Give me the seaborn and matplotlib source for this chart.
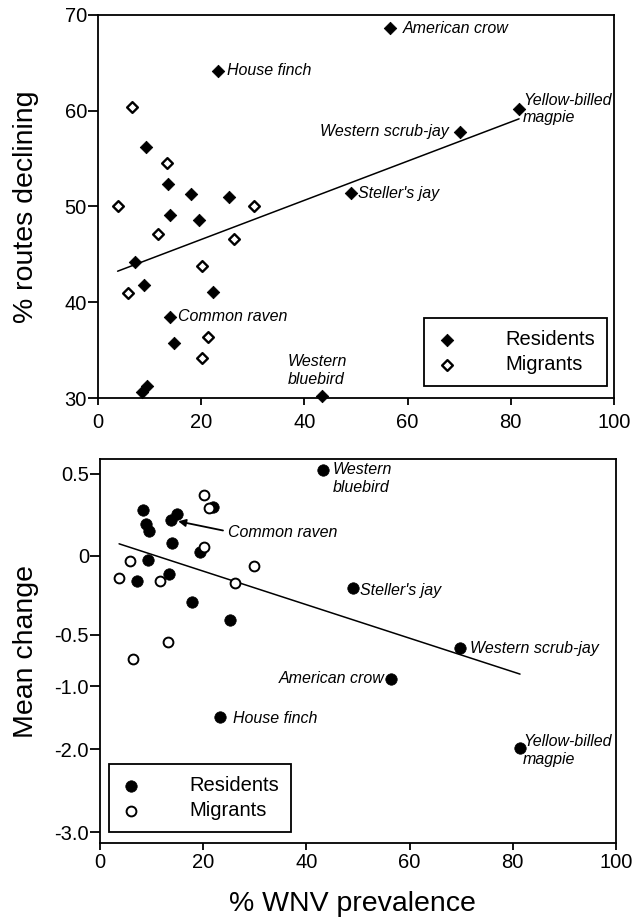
import numpy as np
import pandas as pd
import matplotlib
matplotlib.use("Agg")
import matplotlib.pyplot as plt
import seaborn as sns

# top panel: % routes declining vs % WNV prevalence
res_wnv_top = [23.3, 9.3, 13.5, 18.0, 25.3, 14.0, 19.5, 7.2, 9.0, 22.2,
               14.0, 14.8, 9.4, 8.5, 43.4, 56.6, 81.6, 70.1, 49.1]
res_decl = [64.2, 56.2, 52.3, 51.3, 51.0, 49.1, 48.6, 44.2, 41.8, 41.1,
            38.5, 35.7, 31.3, 30.6, 30.2, 68.6, 60.2, 57.8, 51.4]
res_names_top = ["House finch", "", "", "", "", "", "", "", "", "",
                 "Common raven", "", "", "", "Western\nbluebird", "American crow",
                 "Yellow-billed\nmagpie", "Western scrub-jay", "Steller's jay"]
mig_wnv_top = [6.6, 13.3, 30.2, 3.8, 11.7, 26.3, 20.2, 5.9, 21.4, 20.2]
mig_decl = [60.4, 54.5, 50.1, 50.0, 47.1, 46.6, 43.8, 41.0, 36.4, 34.2]

# bottom panel: mean change vs % WNV prevalence
res_wnv_bot = [21.9, 8.3, 14.9, 13.7, 8.9, 9.5, 13.9, 19.4, 9.3, 13.4,
               7.2, 17.9, 25.2, 43.2, 49.0, 69.8, 56.4, 23.3, 81.4]
res_change = [0.30, 0.28, 0.256, 0.22, 0.195, 0.15, 0.08, 0.024, -0.025, -0.114,
              -0.158, -0.29, -0.405, 0.52, -0.20, -0.63, -0.93, -1.49, -1.98]
res_names_bot = ["", "", "", "Common raven", "", "", "", "", "", "",
                 "", "", "", "Western\nbluebird", "Steller's jay", "Western scrub-jay",
                 "American crow", "House finch", "Yellow-billed\nmagpie"]
mig_wnv_bot = [20.2, 21.1, 20.2, 5.8, 29.9, 3.7, 11.6, 26.2, 13.2, 6.4]
mig_change = [0.37, 0.29, 0.055, -0.032, -0.063, -0.139, -0.158, -0.171, -0.569, -0.735]

x_ticks = [0, 20, 40, 60, 80, 100]
top_yticks = [30, 40, 50, 60, 70]
bot_yticks = [-3.0, -2.0, -1.0, -0.5, 0.0, 0.5]
bot_yticklabels = ["-3.0", "-2.0", "-1.0", "-0.5", "0", "0.5"]

sns.set_theme(style="ticks")
plt.rcParams["font.family"] = ["Liberation Sans", "DejaVu Sans"]
plt.rcParams["text.color"] = "black"
plt.rcParams["axes.labelcolor"] = "black"

fig = plt.figure(figsize=(6.33, 9.24), dpi=100)
ax1 = fig.add_axes([98 / 633, 1 - 398 / 924, 516 / 633, 383 / 924])
ax2 = fig.add_axes([100 / 633, 1 - 843 / 924, 516 / 633, 384 / 924])

# the bottom y axis is not evenly spaced in the original; piecewise scale
scale_vals = [-4.0, -3.0, -2.0, -1.0, -0.5, 0.0, 0.5, 1.0]
scale_pos = [-72, 11, 94, 157, 208, 287, 369, 451]


def fwd(v):
    return np.interp(v, scale_vals, scale_pos)


def inv(p):
    return np.interp(p, scale_pos, scale_vals)


ax2.set_yscale("function", functions=(fwd, inv))

for ax in (ax1, ax2):
    for sp in ax.spines.values():
        sp.set_linewidth(1.3)
        sp.set_color("black")
    ax.set_xlim(0, 100)
    ax.set_xticks(x_ticks)
    ax.tick_params(axis="both", colors="black", labelsize=14.5, width=1.3, direction="out")
    ax.tick_params(axis="y", length=7, pad=1)

ax1.tick_params(axis="x", length=5, pad=6)
ax2.tick_params(axis="x", length=5, pad=2)

txt = dict(fontsize=11.5, style="italic", color="black", textcoords="offset points")
leg_kw = dict(fontsize=14.5, frameon=True, fancybox=False, edgecolor="black", framealpha=1,
              borderaxespad=0, handlelength=1, handletextpad=2.4, labelspacing=0.3,
              borderpad=0.6, markerscale=1, labelcolor="black")

# ---- top
sns.regplot(x=res_wnv_top + mig_wnv_top, y=res_decl + mig_decl, scatter=False, ci=None,
            truncate=True, color="black", line_kws=dict(lw=1.1), ax=ax1)
sns.scatterplot(x=res_wnv_top, y=res_decl, marker="D", s=40, color="black",
                edgecolor="black", linewidth=0.6, label="Residents", clip_on=False, zorder=3, ax=ax1)
sns.scatterplot(x=mig_wnv_top, y=mig_decl, marker="D", s=30, color="white",
                edgecolor="black", linewidth=1.7, label="Migrants", clip_on=False, zorder=3, ax=ax1)
ax1.set_ylim(30, 70)
ax1.set_yticks(top_yticks)

top_offsets = {"House finch": (6.5, 0, "left"), "American crow": (9.4, 0, "left"),
               "Yellow-billed\nmagpie": (3, 0, "left"), "Western scrub-jay": (-8, 0, "right"),
               "Steller's jay": (5, 0, "left"), "Common raven": (5.8, 0, "left"),
               "Western\nbluebird": (-24.5, 18.4, "left")}
for xv, yv, nm in zip(res_wnv_top, res_decl, res_names_top):
    if nm:
        dx, dy, ha = top_offsets[nm]
        ax1.annotate(nm, (xv, yv), xytext=(dx, dy), ha=ha, va="center", **txt)

ax1.set_xlabel("")
ax1.set_ylabel("% routes declining", fontsize=20.5)
ax1.yaxis.set_label_coords(-0.114, 0.5)
leg1 = ax1.legend(loc="upper right", bbox_to_anchor=(0.986, 0.209), **leg_kw)
leg1.get_frame().set_linewidth(1.3)

# ---- bottom (fit done in the plotted axis units, drawn as a straight segment)
all_x = np.array(res_wnv_bot + mig_wnv_bot)
all_y = np.array(res_change + mig_change)
slope, icpt = np.polyfit(all_x, fwd(all_y), 1)
xs = np.array([all_x.min(), all_x.max()])
ax2.plot(xs, inv(icpt + slope * xs), color="black", lw=1.1)

sns.scatterplot(x=res_wnv_bot, y=res_change, marker="o", s=68, color="black",
                edgecolor="black", linewidth=0.5, label="Residents", clip_on=False, zorder=3, ax=ax2)
sns.scatterplot(x=mig_wnv_bot, y=mig_change, marker="o", s=50, color="white",
                edgecolor="black", linewidth=1.4, label="Migrants", clip_on=False, zorder=3, ax=ax2)
ax2.set_ylim(-3.13, 0.59)
ax2.set_yticks(bot_yticks)
ax2.set_yticklabels(bot_yticklabels)
ax2.yaxis.set_minor_locator(matplotlib.ticker.NullLocator())

bot_offsets = {"Western\nbluebird": (7.2, -5.8, "left"), "Steller's jay": (5, -2, "left"),
               "Western scrub-jay": (7.2, 0, "left"), "American crow": (-5, 0, "right"),
               "House finch": (9.4, -1.4, "left"), "Yellow-billed\nmagpie": (2.2, -2, "left")}
for xv, yv, nm in zip(res_wnv_bot, res_change, res_names_bot):
    if nm == "Common raven":
        ax2.annotate(nm, (xv, yv), xytext=(41, -9.5), ha="left", va="center",
                     arrowprops=dict(arrowstyle="-|>", color="black", lw=1.3, shrinkA=1,
                                     shrinkB=5.5, mutation_scale=11, relpos=(0, 0.6)), **txt)
    elif nm:
        dx, dy, ha = bot_offsets[nm]
        ax2.annotate(nm, (xv, yv), xytext=(dx, dy), ha=ha, va="center", **txt)

ax2.set_xlabel("% WNV prevalence", fontsize=20.5)
ax2.xaxis.set_label_coords(0.49, -0.125)
ax2.set_ylabel("Mean change", fontsize=20.5)
ax2.yaxis.set_label_coords(-0.118, 0.5)
leg2 = ax2.legend(loc="lower left", bbox_to_anchor=(0.0174, 0.0286), **leg_kw)
leg2.get_frame().set_linewidth(1.3)

fig.savefig("out.png", dpi=100, facecolor="white")
